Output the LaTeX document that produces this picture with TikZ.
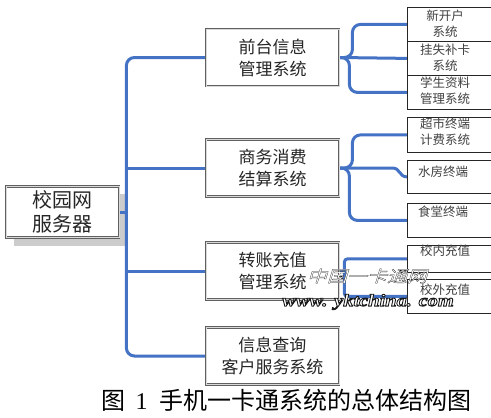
\documentclass[tikz,border=0pt]{standalone}
\usepackage{fontspec}
\setmainfont{Liberation Serif}
\newfontfamily\cjk{Noto Sans CJK SC}
\newfontfamily\wmcjk[FakeSlant=0.3,FakeStretch=1.25,FakeBold=1.5]{Noto Sans CJK SC}
\newfontfamily\wmlat[FakeStretch=1.2]{Liberation Serif}
\usetikzlibrary{backgrounds}
\definecolor{linkblue}{RGB}{68,114,196}
\newcommand{\outlinetext}[2]{\special{pdf:code 2 Tr #1 w 0.1 G}#2\special{pdf:code 0 Tr}}
\begin{document}
\begin{tikzpicture}[x=1pt,y=-1pt,
  link/.style={draw=linkblue, line width=3pt, rounded corners=8pt},
  mainbox/.style={draw=gray!75!black, double=gray!30, double distance=1pt, line width=0.8pt,
    fill=white, align=center, font=\cjk\fontsize{17}{22}\selectfont, text=black!85,
    minimum width=133pt, minimum height=57pt, inner sep=0pt},
  rbox/.style={draw=gray!30!black, line width=0.8pt, anchor=north west, minimum width=100pt, inner sep=0pt},
  rtext/.style={align=center, font=\cjk\fontsize{12.5}{16}\selectfont, text=black!75, inner sep=0pt},
  wmzh/.style={font=\wmcjk\fontsize{16}{16}\selectfont, inner sep=0pt, text=white},
  wmen/.style={font=\wmlat\bfseries\itshape\fontsize{17}{17}\selectfont, inner sep=0pt, text=white},
]
\useasboundingbox (0,0) rectangle (491,418);
\clip (0,0) rectangle (491,418);

% server box
\node[mainbox, minimum width=113pt, minimum height=51pt, font=\cjk\fontsize{20}{24}\selectfont] (srv) at (62.5,212) {校园网\\服务器};

% main boxes
\node[mainbox] (b1) at (272.5,57.5) {前台信息\\管理系统};
\node[mainbox] (b2) at (272.5,168) {商务消费\\结算系统};
\node[mainbox] (b3) at (272.5,271) {转账充值\\管理系统};
\node[mainbox] (b4) at (272.5,356) {信息查询\\客户服务系统};

% right boxes
\node[rbox, minimum height=34pt] (r1) at (407,7) {};
\node[rbox, minimum height=34pt] (r2) at (407,41) {};
\node[rbox, minimum height=34pt] (r3) at (407,75) {};
\node[rbox, minimum height=35pt] (r4) at (407,117) {};
\node[rbox, minimum height=33pt] (r5) at (407,160) {};
\node[rbox, minimum height=34pt] (r6) at (407,203) {};
\node[rbox, minimum height=27pt] (r7) at (407,245) {};
\node[rbox, minimum height=34pt] (r8) at (407,279) {};

\node[rtext] (t1) at (445,24) {新开户\\系统};
\node[rtext] (t2) at (445,58) {挂失补卡\\系统};
\node[rtext] (t3) at (445,91) {学生资料\\管理系统};
\node[rtext] (t4) at (445,131.5) {超市终端\\计费系统};
\node[rtext] (t5) at (443,172) {水房终端};
\node[rtext] (t6) at (443,212) {食堂终端};
\node[rtext] (t7) at (445,251) {校内充值};
\node[rtext] (t8) at (445,290) {校外充值};

% caption
\node[font=\cjk\fontsize{24}{26}\selectfont, inner sep=0pt] (cap) at (286.5,400) {图\hspace{10pt}{\rmfamily 1}\hspace{12pt}手机一卡通系统的总体结构图};

\begin{scope}[on background layer]
  \fill[gray!40] ([xshift=8pt,yshift=-8pt]srv.north west) rectangle ([xshift=8pt,yshift=-8pt]srv.south east);
  % trunk
  \draw[link] (srv.east) -- ++(7,0) coordinate (tr);
  \draw[link] (b1.west) -| (tr) |- (b4.west);
  \draw[link] (tr |- b2.west) -- (b2.west);
  \draw[link] (tr |- b3.west) -- (b3.west);
  % box 1 branches
  \draw[link] (b1.east) -- ++(13,0) |- (r1.west);
  \draw[link] (b1.east) -- (r2.west);
  \draw[link] (b1.east) -- ++(10,0) |- (r3.west);
  % box 2 branches
  \draw[link] (b2.east) -- ++(13,0) |- (r4.west);
  \draw[link, rounded corners=0pt] (b2.east) -- ++(53,0) .. controls +(8,0) and +(-8,0) .. (r5.west);
  \draw[link] (b2.east) -- ++(10,0) |- (r6.west);
  % box 3 branches
  \draw[link] (b3.east) -- ++(5,0) coordinate (j3);
  \draw[link, rounded corners=3pt] (r7.west) -| (j3) |- (r8.west);
\end{scope}

% watermark
\node[wmzh] (wz) at (367,276) {\outlinetext{1.6}{中国一卡通网}};
\node[wmen] (we) at (368,302) {\outlinetext{0.9}{www. yktchina. com}};
\end{tikzpicture}
\end{document}
